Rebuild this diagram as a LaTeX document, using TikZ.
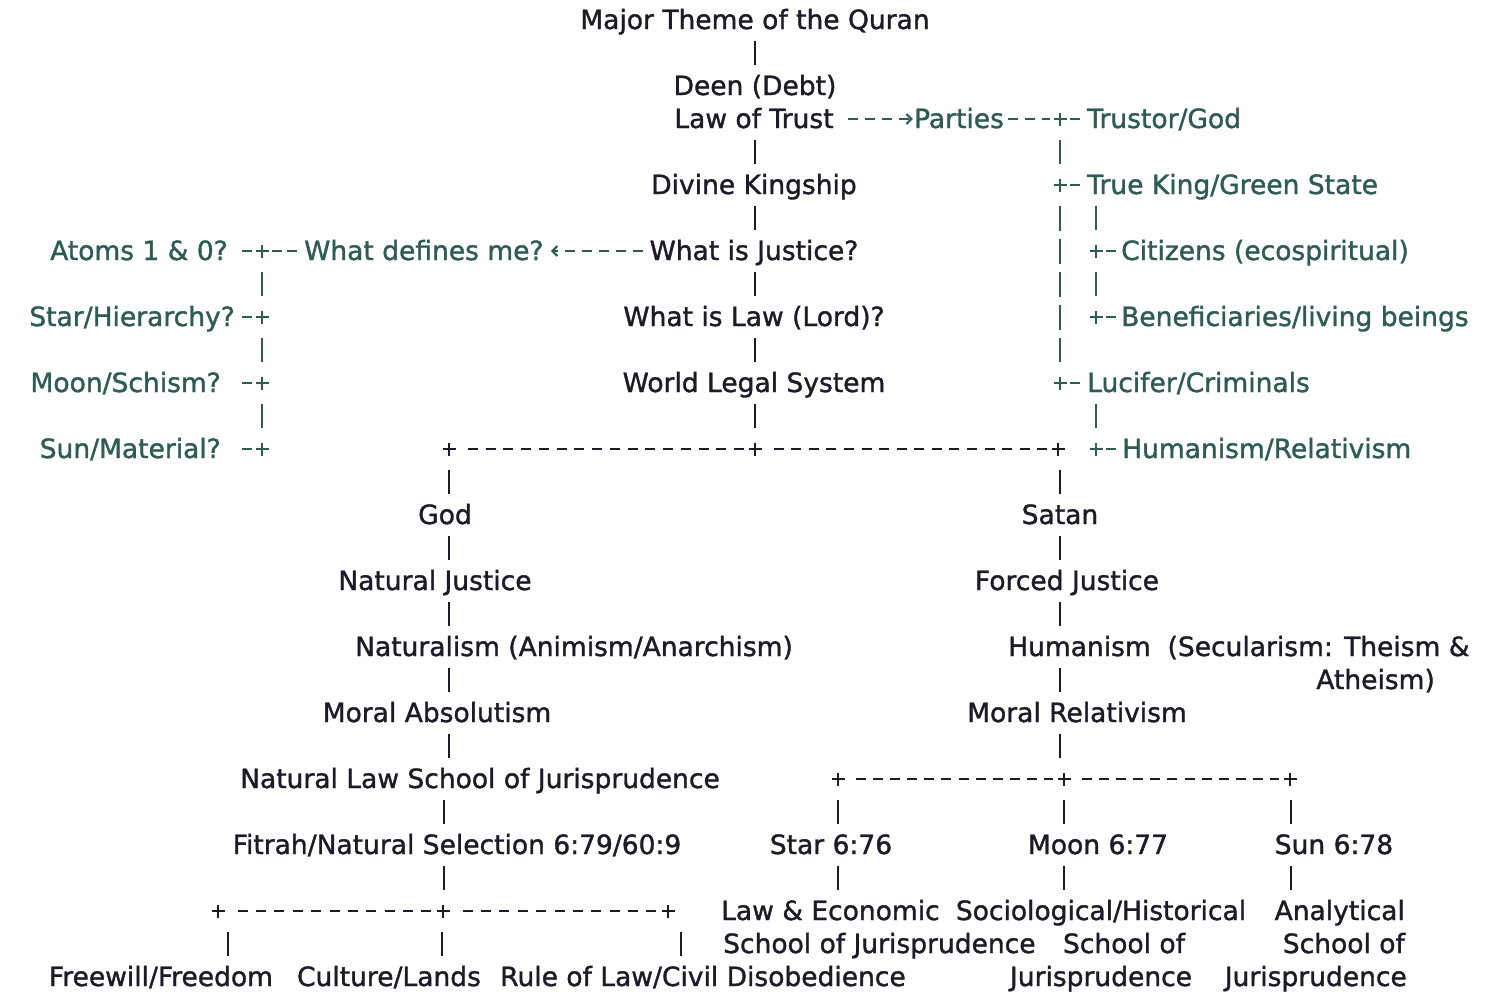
\documentclass[tikz,border=0pt]{standalone}
\usepackage{fontspec}
\setmainfont{DejaVu Sans}[FakeBold=1.3]
\usetikzlibrary{arrows.meta,decorations}
\definecolor{ink}{RGB}{28,28,40}
\definecolor{qgreen}{RGB}{46,92,84}
\tikzset{
  lbl/.style={inner sep=0pt, text height=22pt, text depth=4pt,
    font=\fontsize{26.5pt}{31pt}\selectfont, text=ink},
  glbl/.style={lbl, text=qgreen},
  jn/.style={inner sep=0pt, minimum width=14pt, minimum height=26pt,
    path picture={\draw[line width=2.4pt,#1]
      ([xshift=-6.5pt]path picture bounding box.center) -- ([xshift=6.5pt]path picture bounding box.center)
      ([yshift=-6.5pt]path picture bounding box.center) -- ([yshift=6.5pt]path picture bounding box.center);}},
  jn/.default=ink,
  vbar/.style={draw=#1, line width=2.2pt, dash pattern=on 25pt off 8pt,
    shorten <=7.5pt, shorten >=7.5pt},
  vbar/.default=ink,
  hdash/.style={draw=#1, line width=2.2pt, dash pattern=on 10pt off 7pt},
  hdash/.default=ink,
  jdash/.style={hdash=#1, dash expand off, shorten <=4pt, shorten >=4pt},
  jdash/.default=ink,
  sdash/.style={draw=qgreen, line width=2.2pt, dash pattern=on 10pt off 300pt, shorten <=3pt},
  ddash/.style={draw=qgreen, line width=2.2pt, dash pattern=on 10pt off 5pt on 10pt off 300pt, shorten <=3pt},
  tip/.style={-{Straight Barb[length=5pt,width=10pt,line width=2.2pt]}},
}
\begin{document}
\begin{tikzpicture}[x=1pt,y=-1pt]
\useasboundingbox (0,0) rectangle (1500,1001);
\fill[white] (0,0) rectangle (1500,1001);
% column coordinates for vertical bars
\coordinate (x755) at (755,0);
\coordinate (x262) at (262,0);
\coordinate (x1060) at (1060,0);
\coordinate (x1096) at (1096,0);
\coordinate (x449) at (449,0);
\coordinate (x444) at (444,0);
\coordinate (x838) at (838,0);
\coordinate (x1064) at (1064,0);
\coordinate (x1291) at (1291,0);
\coordinate (x228) at (228,0);
\coordinate (x442) at (442,0);
\coordinate (x681) at (681,0);

% ---- central column
\node[lbl] (t0) at (755,20) {Major Theme of the Quran};
\node[lbl] (deen) at (755,86) {Deen (Debt)};
\node[lbl] (trust) at (754,119) {Law of Trust};
\node[lbl] (king) at (754,185) {Divine Kingship};
\node[lbl] (just) at (754,251) {What is Justice?};
\node[lbl] (lawl) at (754,317) {What is Law (Lord)?};
\node[lbl] (wls) at (754,383) {World Legal System};

% ---- right green branch
\node[glbl] (parties) at (959,119) {Parties};
\node[jn=qgreen] (j3) at (1060,119) {};
\node[glbl, anchor=west] (trustor) at (1087,119) {Trustor/God};
\node[jn=qgreen] (j5) at (1060,185) {};
\node[glbl, anchor=west] (tking) at (1087,185) {True King/Green State};
\node[jn=qgreen] (j7) at (1096,251) {};
\node[glbl, anchor=west] (citiz) at (1121,251) {Citizens (ecospiritual)};
\node[jn=qgreen] (j9) at (1096,317) {};
\node[glbl, anchor=west] (benef) at (1121,317) {Beneficiaries/living beings};
\node[jn=qgreen] (j11) at (1060,383) {};
\node[glbl, anchor=west] (lucif) at (1087,383) {Lucifer/Criminals};
\node[jn=qgreen] (j13) at (1096,449) {};
\node[glbl, anchor=west] (humrel) at (1122,449) {Humanism/Relativism};

% ---- left green branch
\node[glbl, anchor=west] (wdm) at (304,251) {What defines me?};
\node[jn=qgreen] (jL7) at (262,251) {};
\node[glbl, anchor=east] (atoms) at (228,251) {Atoms 1 \& 0?};
\node[jn=qgreen] (jL9) at (262,317) {};
\node[glbl, anchor=east] (starh) at (235,317) {Star/Hierarchy?};
\node[jn=qgreen] (jL11) at (262,383) {};
\node[glbl, anchor=east] (moons) at (221,383) {Moon/Schism?};
\node[jn=qgreen] (jL13) at (262,449) {};
\node[glbl, anchor=east] (sunm) at (221,449) {Sun/Material?};

% ---- God / Satan split
\node[jn] (ja) at (449,449) {};
\node[jn] (jb) at (755,449) {};
\node[jn] (jc) at (1058,449) {};
\node[lbl] (god) at (445,515) {God};
\node[lbl] (satan) at (1060,515) {Satan};
\node[lbl] (natj) at (435,581) {Natural Justice};
\node[lbl] (forj) at (1067,581) {Forced Justice};
\node[lbl] (natu) at (574,647) {Naturalism (Animism/Anarchism)};
\node[lbl, anchor=west] (huma) at (1008,647) {Humanism\ \ (Secularism: Theism \&};
\node[lbl, anchor=east] (athe) at (1435,680) {Atheism)};
\node[lbl] (mabs) at (437,713) {Moral Absolutism};
\node[lbl] (mrel) at (1077,713) {Moral Relativism};
\node[lbl] (nlsj) at (480,779) {Natural Law School of Jurisprudence};
\node[jn] (jd) at (838,779) {};
\node[jn] (je) at (1064,779) {};
\node[jn] (jf) at (1290,779) {};
\node[lbl] (fitr) at (457,845) {Fitrah/Natural Selection 6:79/60:9};
\node[lbl] (star) at (831,845) {Star 6:76};
\node[lbl] (moon) at (1098,845) {Moon 6:77};
\node[lbl] (sun) at (1334,845) {Sun 6:78};
\node[jn] (jg) at (218,911) {};
\node[jn] (jh) at (443,911) {};
\node[jn] (ji) at (668,911) {};
\node[lbl, anchor=west] (leco) at (721,911) {Law \& Economic};
\node[lbl, anchor=west] (leco2) at (723,944) {School of Jurisprudence};
\node[lbl] (soc1) at (1101,911) {Sociological/Historical};
\node[lbl] (soc2) at (1124,944) {School of};
\node[lbl] (soc3) at (1101,977) {Jurisprudence};
\node[lbl, anchor=east] (ana1) at (1405,911) {Analytical};
\node[lbl, anchor=east] (ana2) at (1405,944) {School of};
\node[lbl, anchor=east] (ana3) at (1407,977) {Jurisprudence};
\node[lbl] (free) at (161,977) {Freewill/Freedom};
\node[lbl] (cult) at (389,977) {Culture/Lands};
\node[lbl] (rule) at (703,977) {Rule of Law/Civil Disobedience};

% ---- vertical bars, central column
\draw[vbar] (t0.south -| x755) -- (deen.north -| x755);
\draw[vbar] (trust.south -| x755) -- (king.north -| x755);
\draw[vbar] (king.south -| x755) -- (just.north -| x755);
\draw[vbar] (just.south -| x755) -- (lawl.north -| x755);
\draw[vbar] (lawl.south -| x755) -- (wls.north -| x755);
\draw[vbar] (wls.south -| x755) -- (jb.north);

% ---- green bars
\draw[vbar=qgreen] (j3.south) -- (j5.north);
\draw[vbar=qgreen] (j5.south) -- (j11.north);
\draw[vbar=qgreen] (tking.south -| x1096) -- (j7.north);
\draw[vbar=qgreen] (j7.south) -- (j9.north);
\draw[vbar=qgreen] (lucif.south -| x1096) -- (j13.north);
\draw[vbar=qgreen] (jL7.south) -- (jL9.north);
\draw[vbar=qgreen] (jL9.south) -- (jL11.north);
\draw[vbar=qgreen] (jL11.south) -- (jL13.north);

% ---- green horizontals
\draw[hdash=qgreen, tip, shorten <=14pt, shorten >=1pt] (trust.east) -- (parties.west);
\draw[hdash=qgreen, shorten <=4pt, shorten >=3pt] (parties.east) -- (j3.west);
\draw[sdash] (j3.east) -- (trustor.west);
\draw[sdash] (j5.east) -- (tking.west);
\draw[sdash] (j7.east) -- (citiz.west);
\draw[sdash] (j9.east) -- (benef.west);
\draw[sdash] (j11.east) -- (lucif.west);
\draw[sdash] (j13.east) -- (humrel.west);
\draw[hdash=qgreen, tip, shorten <=6pt, shorten >=7pt] (just.west) -- (wdm.east);
\draw[ddash] (jL7.east) -- (wdm.west);
\draw[sdash, shorten <=3pt] (jL7.west) -- (atoms.east);
\draw[sdash, shorten <=3pt] (jL9.west) -- (starh.east);
\draw[sdash, shorten <=3pt] (jL11.west) -- (moons.east);
\draw[sdash, shorten <=3pt] (jL13.west) -- (sunm.east);

% ---- God / Satan tree
\draw[jdash] (ja) -- (jb);
\draw[jdash] (jb) -- (jc);
\draw[vbar] (ja.south -| x449) -- (god.north -| x449);
\draw[vbar] (jc.south -| x1060) -- (satan.north -| x1060);
\draw[vbar] (god.south -| x449) -- (natj.north -| x449);
\draw[vbar] (satan.south -| x1060) -- (forj.north -| x1060);
\draw[vbar] (natj.south -| x449) -- (natu.north -| x449);
\draw[vbar] (forj.south -| x1060) -- (huma.north -| x1060);
\draw[vbar] (natu.south -| x449) -- (mabs.north -| x449);
\draw[vbar] (huma.south -| x1060) -- (mrel.north -| x1060);
\draw[vbar] (mabs.south -| x449) -- (nlsj.north -| x449);
\draw[vbar] (mrel.south -| x1060) -- (je.north -| x1060);
\draw[vbar] (nlsj.south -| x444) -- (fitr.north -| x444);
\draw[vbar] (fitr.south -| x444) -- (jh.north -| x444);

\draw[jdash] (jd) -- (je);
\draw[jdash] (je) -- (jf);
\draw[vbar] (jd.south -| x838) -- (star.north -| x838);
\draw[vbar] (je.south -| x1064) -- (moon.north -| x1064);
\draw[vbar] (jf.south -| x1291) -- (sun.north -| x1291);
\draw[vbar] (star.south -| x838) -- (leco.north -| x838);
\draw[vbar] (moon.south -| x1064) -- (soc1.north -| x1064);
\draw[vbar] (sun.south -| x1291) -- (ana1.north -| x1291);

\draw[jdash] (jg) -- (jh);
\draw[jdash] (jh) -- (ji);
\draw[vbar] (jg.south -| x228) -- (free.north -| x228);
\draw[vbar] (jh.south -| x442) -- (cult.north -| x442);
\draw[vbar] (ji.south -| x681) -- (rule.north -| x681);
\end{tikzpicture}
\end{document}
